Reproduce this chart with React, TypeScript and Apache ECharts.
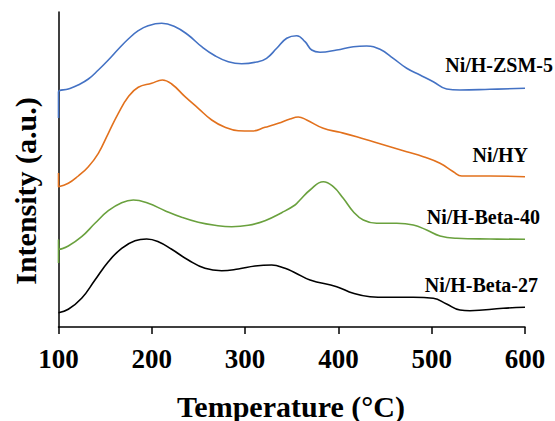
import React, { useEffect, useRef } from "react";
import * as echarts from "echarts";

const xTicks = [100, 200, 300, 400, 500, 600];

const seriesNames = ["Ni/H-ZSM-5", "Ni/HY", "Ni/H-Beta-40", "Ni/H-Beta-27"];
const seriesColors = ["#4472C4", "#E2711D", "#6AA13E", "#000000"];

const zsm5: [number, number][] = [
  [100, 209], [100, 235], [110.5, 238], [121, 242], [132, 248], [142.7, 257], [153.4, 267],
  [164, 277.7], [174.8, 288], [185.5, 296.3], [196, 301.3], [210.6, 303.7], [224.9, 300.3],
  [239, 292], [253.5, 280.3], [267.7, 271.3], [282, 265.3], [296.3, 263.3], [312.4, 265],
  [323, 268.7], [333.9, 278.7], [344.6, 288.7], [355.3, 291.3], [364.2, 285.3], [371.4, 277],
  [380.3, 274.7], [398.2, 277], [416, 280.3], [430.3, 281], [444.6, 277.7], [458.8, 268.7],
  [473.2, 258.7], [487.5, 252], [501.7, 245.3], [516, 238], [530.3, 237], [562.5, 237.7],
  [600, 238.7],
];

const hy: [number, number][] = [
  [100, 154], [100, 140.3], [110.5, 143.7], [121.2, 151], [132, 160.3], [142.7, 173.7],
  [153.4, 193.7], [164.1, 213.7], [174.8, 230.3], [185.5, 239.7], [199.9, 243.7],
  [211.3, 247], [221.3, 243], [235.6, 230.3], [249.8, 218.7], [264.2, 207], [278.5, 199.7],
  [292.7, 196.3], [307.1, 196], [321.3, 199.7], [335.6, 203.7], [348.1, 208], [357, 210],
  [366, 207], [383.8, 198.7], [401.7, 194.7], [419.6, 190.3], [437.4, 185.3], [455.3, 180.3],
  [473.2, 175.3], [491, 170.3], [508.9, 163.7], [523.2, 155.3], [532.2, 151], [562.5, 151],
  [600, 150.3],
];

const beta40: [number, number][] = [
  [100, 64], [100, 87], [100.5, 77.7], [110.5, 81], [124.8, 90.3], [139.1, 103.7],
  [153.4, 116.3], [167.7, 124.3], [180.2, 127], [196.2, 123.7], [214.1, 116.3], [232, 109.7],
  [249.8, 104.7], [267.7, 101.7], [285.6, 100.3], [303.4, 101.7], [321.3, 106.3],
  [339.2, 114.3], [353.5, 122], [358.8, 127], [369.6, 137], [383.8, 145.3], [394.5, 140.3],
  [405.2, 128.7], [416, 115.3], [426.7, 107], [441, 103.7], [462.5, 103.7], [480.3, 102],
  [494.6, 97], [508.9, 91], [526.8, 88.7], [562.5, 88], [600, 87.7],
];

const beta27: [number, number][] = [
  [100, 14.3], [110.5, 17.7], [124.8, 28.7], [139.1, 47], [153.4, 65.3], [167.7, 78.7],
  [182, 86.3], [194.5, 88], [207, 85.3], [221.3, 77.7], [239.1, 67], [257, 58.7],
  [274.9, 56.3], [292.7, 58], [310.6, 61], [328.5, 62], [342.8, 58.7], [353.5, 54.3],
  [369.6, 47], [398.2, 40.3], [416, 33.7], [433.9, 30.3], [452, 29.7], [480.3, 29.7],
  [501.7, 28.7], [516, 23], [530.3, 17], [541, 16.3], [576.5, 18.7], [600, 19.7],
];

const seriesData = [zsm5, hy, beta40, beta27];

const FONT = '"Liberation Serif", "Times New Roman", serif';

export default function App() {
  const ref = useRef<HTMLDivElement>(null);
  useEffect(() => {
    if (!ref.current) return;
    const chart = echarts.init(ref.current, null, { renderer: "svg" });
    const labelPos = [
      { x: 553, y: 65 },
      { x: 528, y: 155 },
      { x: 540, y: 217 },
      { x: 538, y: 285 },
    ];
    chart.setOption({
      animation: false,
      backgroundColor: "#ffffff",
      grid: { left: 58.5, right: 30, top: 12, bottom: 94, containLabel: false },
      xAxis: {
        type: "value",
        min: 100,
        max: 600,
        interval: 100,
        axisLine: { show: true, lineStyle: { color: "#000", width: 1.5 } },
        axisTick: { show: true, inside: false, length: 7, lineStyle: { color: "#000", width: 1.5 } },
        axisLabel: {
          margin: 18,
          color: "#000",
          fontFamily: FONT,
          fontWeight: "bold",
          fontSize: 27,
          formatter: (v: number) => (xTicks.includes(v) ? String(v) : ""),
        },
        splitLine: { show: false },
      },
      yAxis: {
        type: "value",
        min: 0,
        max: 315,
        axisLine: { show: true, lineStyle: { color: "#000", width: 1.5 } },
        axisTick: { show: false },
        axisLabel: { show: false },
        splitLine: { show: false },
      },
      series: seriesData.map((d, i) => ({
        name: seriesNames[i],
        type: "line",
        data: d,
        showSymbol: false,
        smooth: 0.45,
        lineStyle: { color: seriesColors[i], width: 1.6, join: "round" },
        z: 3,
      })),
      graphic: [
        ...seriesNames.map((n, i) => ({
          type: "text",
          x: labelPos[i].x,
          y: labelPos[i].y,
          style: {
            text: n,
            fill: "#000",
            font: `bold 20px ${FONT}`,
            align: "right",
            verticalAlign: "middle",
          },
        })),
        {
          type: "text",
          x: 291,
          y: 406,
          style: {
            text: "Temperature (°C)",
            fill: "#000",
            font: `bold 30px ${FONT}`,
            align: "center",
            verticalAlign: "middle",
          },
        },
        {
          type: "text",
          x: 25,
          y: 191,
          rotation: Math.PI / 2,
          style: {
            text: "Intensity (a.u.)",
            fill: "#000",
            font: `bold 30px ${FONT}`,
            align: "center",
            verticalAlign: "middle",
          },
        },
      ],
    });
    return () => chart.dispose();
  }, []);
  return <div ref={ref} style={{ width: 555, height: 421, position: "absolute", left: 0, top: 0 }} />;
}
